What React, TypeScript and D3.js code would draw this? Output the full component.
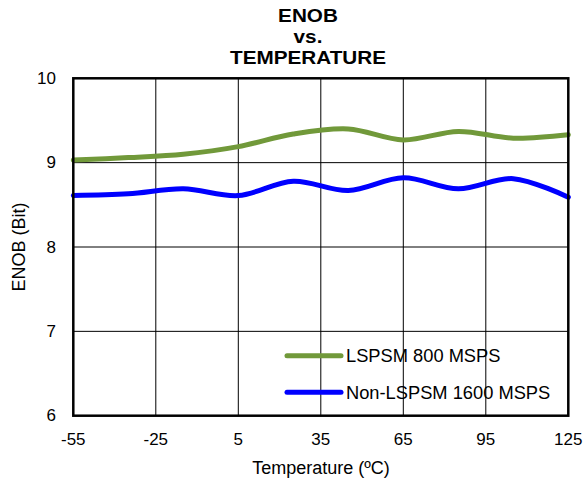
import React from 'react';
import * as d3 from 'd3';

const temps = [-55, -35, -15, 5, 25, 45, 65, 85, 105, 125];
const lspsm800 = [9.03, 9.06, 9.1, 9.19, 9.34, 9.4, 9.27, 9.37, 9.29, 9.33];
const nonLspsm1600 = [8.61, 8.63, 8.69, 8.61, 8.78, 8.67, 8.82, 8.69, 8.81, 8.59];
const xTicks = [-55, -25, 5, 35, 65, 95, 125];
const yTicks = [6, 7, 8, 9, 10];
const titleLines = ['ENOB', 'vs.', 'TEMPERATURE'];
const seriesNames = ['LSPSM 800 MSPS', 'Non-LSPSM 1600 MSPS'];
const seriesColors = ['#71993a', '#0000ff'];

const W = 585;
const H = 483;
const FONT = 'Arial, "Liberation Sans", Helvetica, sans-serif';

export default function App() {
  const margin = { left: 73.3, right: W - 568.3, top: 78.3, bottom: H - 415.7 };
  const x = d3.scaleLinear().domain([-55, 125]).range([margin.left, W - margin.right]);
  const y = d3.scaleLinear().domain([6, 10]).range([H - margin.bottom, margin.top]);

  const line = d3
    .line<number>()
    .x((_, i) => x(temps[i]))
    .y(d => y(d))
    .curve(d3.curveCatmullRom.alpha(0.5));

  const series = [lspsm800, nonLspsm1600];
  const [x0, x1] = x.range();
  const [y0, y1] = y.range();

  return (
    <svg
      width={W}
      height={H}
      style={{ position: 'absolute', left: 0, top: 0, background: '#fff', fontFamily: FONT }}
    >
      {/* title - slightly widened like the original */}
      <g transform="translate(308,0) scale(1.12,1)" textAnchor="middle" fontWeight="bold" fontSize={18.5} fill="#000">
        {titleLines.map((t, i) => (
          <text key={t} x={0} y={22.5 + i * 20.8}>
            {t}
          </text>
        ))}
      </g>

      {/* grid */}
      <g stroke="#000" strokeWidth={1}>
        {xTicks.slice(1, -1).map(t => (
          <line key={'gx' + t} x1={x(t)} x2={x(t)} y1={y1} y2={y0} />
        ))}
        {yTicks.slice(1, -1).map(t => (
          <line key={'gy' + t} x1={x0} x2={x1} y1={y(t)} y2={y(t)} />
        ))}
      </g>

      {/* series */}
      {series.map((s, i) => (
        <path
          key={seriesNames[i]}
          d={line(s) || ''}
          fill="none"
          stroke={seriesColors[i]}
          strokeWidth={5}
          strokeLinecap="round"
        />
      ))}

      {/* frame */}
      <rect x={x0} y={y1} width={x1 - x0} height={y0 - y1} fill="none" stroke="#000" strokeWidth={2.5} />

      {/* tick labels */}
      <g fontSize={17} fill="#000">
        {yTicks.map(t => (
          <text key={'ty' + t} x={56} y={y(t)} textAnchor="end" dominantBaseline="central">
            {t}
          </text>
        ))}
        {xTicks.map(t => (
          <text key={'tx' + t} x={x(t)} y={439} textAnchor="middle" dominantBaseline="central">
            {t}
          </text>
        ))}
      </g>

      {/* axis titles */}
      <text x={321} y={468} fontSize={18} textAnchor="middle" dominantBaseline="central">
        Temperature (ºC)
      </text>
      <text
        transform={`translate(18.5,247) rotate(-90)`}
        fontSize={18}
        textAnchor="middle"
        dominantBaseline="central"
      >
        ENOB (Bit)
      </text>

      {/* legend */}
      {seriesNames.map((name, i) => {
        const ly = 355.7 + i * 36.6;
        return (
          <g key={'lg' + name}>
            <line x1={287} x2={341} y1={ly} y2={ly} stroke={seriesColors[i]} strokeWidth={5} strokeLinecap="round" />
            <text x={346} y={ly} fontSize={18.3} dominantBaseline="central">
              {name}
            </text>
          </g>
        );
      })}
    </svg>
  );
}
